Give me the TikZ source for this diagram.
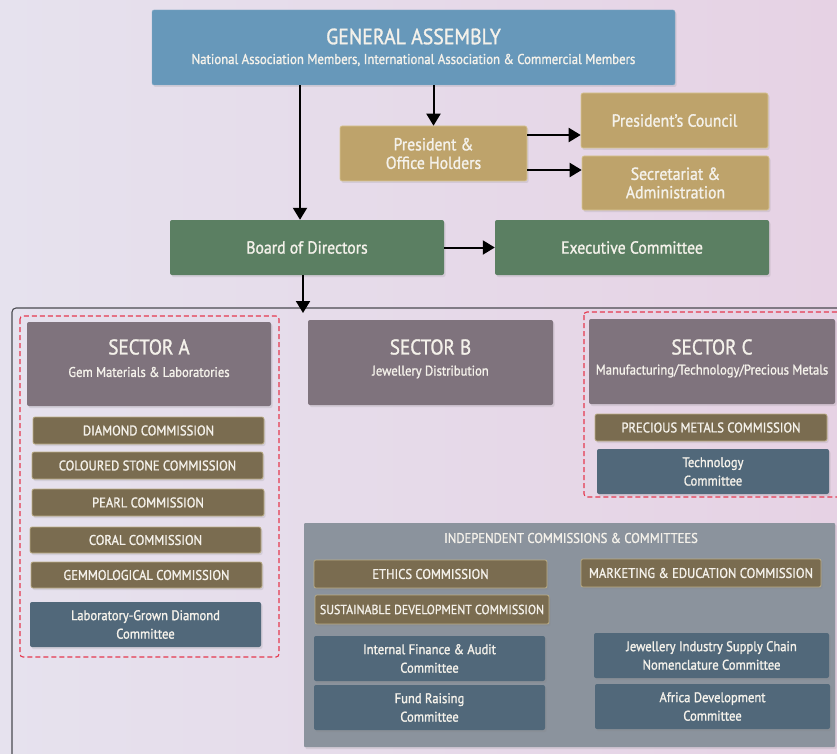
\documentclass[tikz,border=0pt]{standalone}
\usepackage{fontspec}
\setmainfont{PT Sans}[FakeStretch=0.9,FakeBold=1.3]
\usetikzlibrary{arrows.meta,shadows}
\definecolor{bgA}{HTML}{E6E2EE}
\definecolor{bgB}{HTML}{E6D2E4}
\definecolor{gablue}{HTML}{6798BA}
\definecolor{green}{HTML}{5B7F62}
\definecolor{gold}{HTML}{BEA36B}
\definecolor{goldedge}{HTML}{D8C694}
\definecolor{mauve}{HTML}{7F737D}
\definecolor{olive}{HTML}{7A6C50}
\definecolor{oliveedge}{HTML}{BCAE86}
\definecolor{slate}{HTML}{51687A}
\definecolor{indep}{HTML}{8B939D}
\definecolor{txt}{HTML}{F4F1EA}
\definecolor{dashred}{HTML}{E5394F}
\definecolor{framec}{HTML}{4A4A50}
\newcommand\fs[2]{\fontsize{#1}{#2}\selectfont}
\newcommand\orgbox[7]{\node[#2, minimum width={(#5-#3)*1pt}, minimum height={(#6-#4)*1pt}] (#1) at ({(#3+#5)/2},{(#4+#6)/2}) {#7};}
\tikzset{
  base/.style={rectangle, rounded corners=2pt, text=txt, align=center, inner sep=0pt,
    drop shadow={opacity=0.18, shadow xshift=1.5pt, shadow yshift=-2pt}},
  gabox/.style={base, fill=gablue, draw=gablue!80!white},
  greenbox/.style={base, fill=green, font=\fs{17.5}{20}},
  goldbox/.style={base, fill=gold, draw=goldedge, line width=0.6pt, font=\fs{17.5}{18.5}},
  sectorbox/.style={base, fill=mauve},
  combox/.style={base, fill=olive, draw=oliveedge, line width=0.7pt, font=\fs{14}{16}},
  ctebox/.style={base, fill=slate, font=\fs{14}{18.5}},
  indepbox/.style={base, fill=indep, rounded corners=1pt},
  sectitle/.style={text=txt, align=center, inner sep=0pt},
  arr/.style={line width=2pt, -{Triangle[width=14pt,length=12pt]}},
  sectdash/.style={draw=dashred, dashed, dash pattern=on 5pt off 3pt, line width=1.1pt, rounded corners=3pt},
}
\begin{document}
\begin{tikzpicture}[x=1pt,y=-1pt]
\useasboundingbox (0,0) rectangle (837,754);
\shade[left color=bgA, right color=bgB] (0,0) rectangle (837,754);

% top level
\orgbox{ga}{gabox}{152}{10}{675}{85}{}
\node[sectitle, font=\fs{22}{24}] (gat) at (413.5,36.5) {GENERAL ASSEMBLY};
\node[sectitle, font=\fs{14.2}{16}] (gas) at (413.5,60) {National Association Members, International Association \& Commercial Members};

\orgbox{pres}{goldbox}{340}{126}{527}{181}{President \&\\Office Holders}
\orgbox{pc}{goldbox}{581}{93}{768}{148}{President's Council}
\orgbox{sec}{goldbox}{582}{156}{769}{210}{Secretariat \&\\Administration}
\orgbox{bod}{greenbox}{170}{220}{444}{275}{Board of Directors}
\orgbox{exec}{greenbox}{495}{220}{769}{275}{Executive Committee}

% frame
\coordinate (frtop) at (303,308);
\draw[framec, line width=1.1pt, rounded corners=4pt] (12,760) -- (12,308) -- (845,308);

% connectors
\draw[arr] ([xshift=-7pt]ga.south -| bod.north) -- ([xshift=-7pt]bod.north);
\draw[arr] (ga.south -| pres.north) -- (pres.north);
\draw[arr] ([yshift=18.5pt]pres.east) -- ([yshift=18.5pt]pres.east -| pc.west);
\draw[arr] ([yshift=-16.5pt]pres.east) -- ([yshift=-16.5pt]pres.east -| sec.west);
\draw[arr] (bod.east) -- (exec.west);
\draw[arr] ([xshift=-4pt]bod.south) -- ([xshift=-4pt, yshift=-5pt]bod.south |- frtop);

% sector A
\draw[sectdash] (20,316) rectangle (279,657);
\orgbox{secA}{sectorbox}{27}{322}{271}{406}{}
\node[sectitle, font=\fs{21.3}{24}] (secAt) at (149,347) {SECTOR A};
\node[sectitle, font=\fs{14}{16}] (secAs) at (149,372) {Gem Materials \& Laboratories};
\orgbox{dia}{combox}{33}{417}{264}{444}{DIAMOND COMMISSION}
\orgbox{col}{combox}{32}{452}{263}{479}{COLOURED STONE COMMISSION}
\orgbox{pea}{combox}{32}{489}{264}{516}{PEARL COMMISSION}
\orgbox{cor}{combox}{30}{527}{261}{553}{CORAL COMMISSION}
\orgbox{gem}{combox}{31}{562}{262}{588}{GEMMOLOGICAL COMMISSION}
\orgbox{lab}{ctebox}{30}{602}{261}{647}{Laboratory-Grown Diamond\\Committee}

% sector B
\orgbox{secB}{sectorbox}{308}{320}{553}{405}{}
\node[sectitle, font=\fs{21.3}{24}] (secBt) at (430.5,347) {SECTOR B};
\node[sectitle, font=\fs{14}{16}] (secBs) at (430.5,372) {Jewellery Distribution};

% sector C
\draw[sectdash] (584,312) rectangle (845,497);
\orgbox{secC}{sectorbox}{589}{319}{835}{404}{}
\node[sectitle, font=\fs{21.3}{24}] (secCt) at (712,347) {SECTOR C};
\node[sectitle, font=\fs{14}{16}] (secCs) at (712,371) {Manufacturing/Technology/Precious Metals};
\orgbox{pm}{combox}{595}{414}{827}{441}{PRECIOUS METALS COMMISSION}
\orgbox{tech}{ctebox}{597}{449}{829}{494}{Technology\\Committee}

% independent
\orgbox{ind}{indepbox}{304}{523}{835}{747}{}
\node[sectitle, font=\fs{14}{16}] (indt) at (571,538) {INDEPENDENT COMMISSIONS \& COMMITTEES};
\orgbox{eth}{combox}{314}{560}{547}{588}{ETHICS COMMISSION}
\orgbox{sus}{combox, font=\fs{13.2}{16}}{315}{595}{549}{624}{SUSTAINABLE DEVELOPMENT COMMISSION}
\orgbox{ifa}{ctebox}{314}{636}{545}{681}{Internal Finance \& Audit\\Committee}
\orgbox{fun}{ctebox}{314}{685}{545}{730}{Fund Raising\\Committee}
\orgbox{mkt}{combox}{581}{559}{821}{587}{MARKETING \& EDUCATION COMMISSION}
\orgbox{jis}{ctebox}{594}{633}{829}{678}{Jewellery Industry Supply Chain\\Nomenclature Committee}
\orgbox{afr}{ctebox}{595}{684}{830}{729}{Africa Development\\Committee}
\end{tikzpicture}
\end{document}
